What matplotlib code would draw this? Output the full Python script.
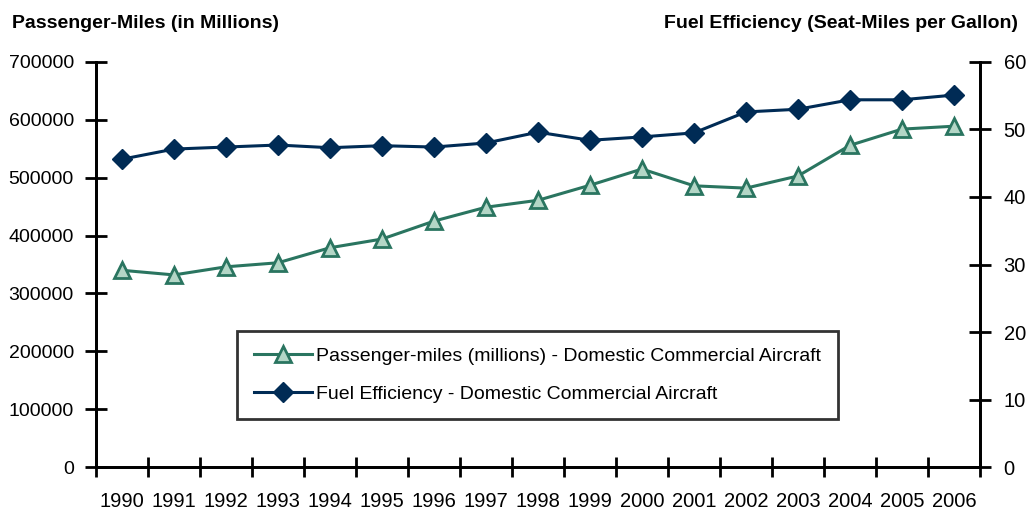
"""Passenger-miles and fuel efficiency of domestic commercial aircraft, 1990-2006."""

import numpy as np
import matplotlib
matplotlib.use("Agg")
import matplotlib.pyplot as plt
from matplotlib.ticker import FixedLocator

years = [str(y) for y in range(1990, 2007)]
passenger_miles = [340000, 332000, 346000, 353000, 379000, 394000, 425000, 449000,
                   461000, 487000, 515000, 486000, 482000, 503000, 556000, 584000, 589000]
fuel_eff = [45.6, 47.1, 47.4, 47.7, 47.3, 47.6, 47.4, 48.0,
            49.6, 48.4, 48.9, 49.5, 52.6, 53.0, 54.4, 54.4, 55.1]

GREEN = "#2a7560"
GREEN_FILL = "#b3d6c6"
NAVY = "#002b55"

plt.rcParams["font.family"] = ["Liberation Sans Narrow", "Liberation Sans", "DejaVu Sans"]


def main():
    fig = plt.figure(figsize=(10.28, 5.14), dpi=100)
    ax = fig.add_axes([0.0934, 0.0914, 0.8599, 0.788])
    ax2 = ax.twinx()

    x = np.arange(len(years))
    l1, = ax.plot(x, passenger_miles, color=GREEN, lw=2.2, marker="^", ms=12,
                  mfc=GREEN_FILL, mec=GREEN, mew=2,
                  label="Passenger-miles (millions) - Domestic Commercial Aircraft")
    l2, = ax2.plot(x, fuel_eff, color=NAVY, lw=2.2, marker="D", ms=10,
                   mfc=NAVY, mec=NAVY,
                   label="Fuel Efficiency - Domestic Commercial Aircraft")

    ax.set_xlim(-0.5, len(years) - 0.5)
    ax.set_ylim(0, 700000)
    ax2.set_ylim(0, 60)
    ax.set_yticks(range(0, 700001, 100000))
    ax.set_yticklabels([str(v) for v in range(0, 700001, 100000)])
    ax2.set_yticks(range(0, 61, 10))

    ax.set_xticks(x)
    ax.set_xticklabels(years)
    ax.xaxis.set_minor_locator(FixedLocator(np.arange(-0.5, len(years), 1.0)))
    ax.tick_params(axis="x", which="major", length=0, pad=18, labelsize=14.5)
    ax.tick_params(axis="x", which="minor", direction="inout", length=14, width=2)
    ax.tick_params(axis="y", direction="inout", length=16, width=2, labelsize=14, pad=8)
    ax2.tick_params(axis="y", direction="inout", length=16, width=2, labelsize=14.5, pad=9)

    for a in (ax, ax2):
        a.spines["top"].set_visible(False)
        for s in ("left", "right", "bottom"):
            a.spines[s].set_linewidth(2)
    ax.set_zorder(ax2.get_zorder() + 1)
    ax.patch.set_visible(False)

    leg = ax.legend(handles=[l1, l2], loc="upper left", bbox_to_anchor=(0.160, 0.337),
                    frameon=True, fancybox=False, fontsize=14, handlelength=3,
                    handletextpad=0.2, borderpad=0.85, labelspacing=1.05, borderaxespad=0)
    leg.get_frame().set_edgecolor("black")
    leg.get_frame().set_linewidth(2)

    fig.text(0.012, 0.955, "Passenger-Miles (in Millions)", fontsize=14,
             fontweight="bold", ha="left", va="center")
    fig.text(0.99, 0.955, "Fuel Efficiency (Seat-Miles per Gallon)", fontsize=14,
             fontweight="bold", ha="right", va="center")

    fig.savefig("out.png", dpi=100)


if __name__ == "__main__":
    main()
